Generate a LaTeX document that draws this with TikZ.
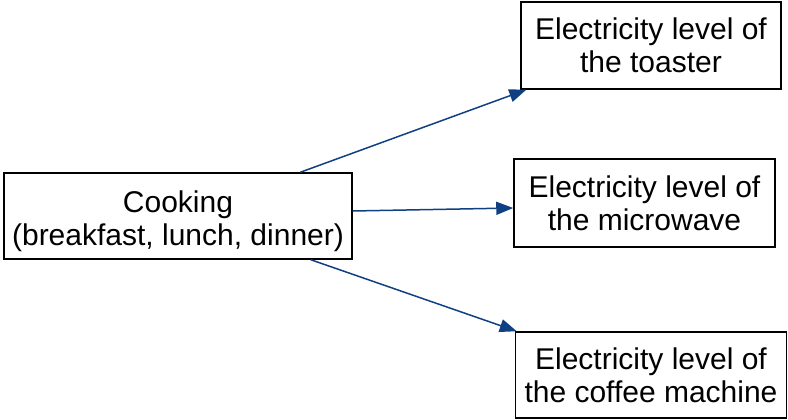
\documentclass[tikz,border=0pt]{standalone}
\usepackage{fontspec}
\setmainfont{Liberation Sans}
\usepackage{xcolor}
\usepackage{tikz}
\usetikzlibrary{arrows.meta,positioning,calc}
\definecolor{arrcolor}{HTML}{0F4082}

\begin{document}
\begin{tikzpicture}[
    x=1pt, y=-1pt,
    box/.style={draw, line width=1.5pt, inner sep=0pt, align=center,
                font=\fontsize{30}{33}\selectfont},
    arr/.style={-{Triangle[length=17pt, width=13pt]}, line width=1.5pt, arrcolor}
]
\useasboundingbox (0,0) rectangle (788,420);

% Source
\node[box, minimum width=348pt, minimum height=86pt] (cook) at (178,216)
    {\rule{0pt}{32pt}Cooking\\(breakfast, lunch, dinner)};

% Appliances
\node[box, minimum width=260pt, minimum height=87pt] (toaster) at (651,45.5)
    {Electricity level of\\the toaster};
\node[box, minimum width=261pt, minimum height=88pt] (micro) at (644.5,203)
    {Electricity level of\\the microwave};
\node[box, minimum width=271pt, minimum height=86pt] (coffee) at (651,375)
    {Electricity level of\\the coffee machine};

% Arrows
\draw[arr] ($(cook.north west)!0.85!(cook.north east)$) -- ([xshift=6pt]toaster.south west);
\draw[arr] ([yshift=5pt]cook.east) -- ([yshift=-5pt]micro.west);
\draw[arr] ($(cook.south west)!0.88!(cook.south east)$) -- ([xshift=2pt]coffee.north west);

\end{tikzpicture}
\end{document}
